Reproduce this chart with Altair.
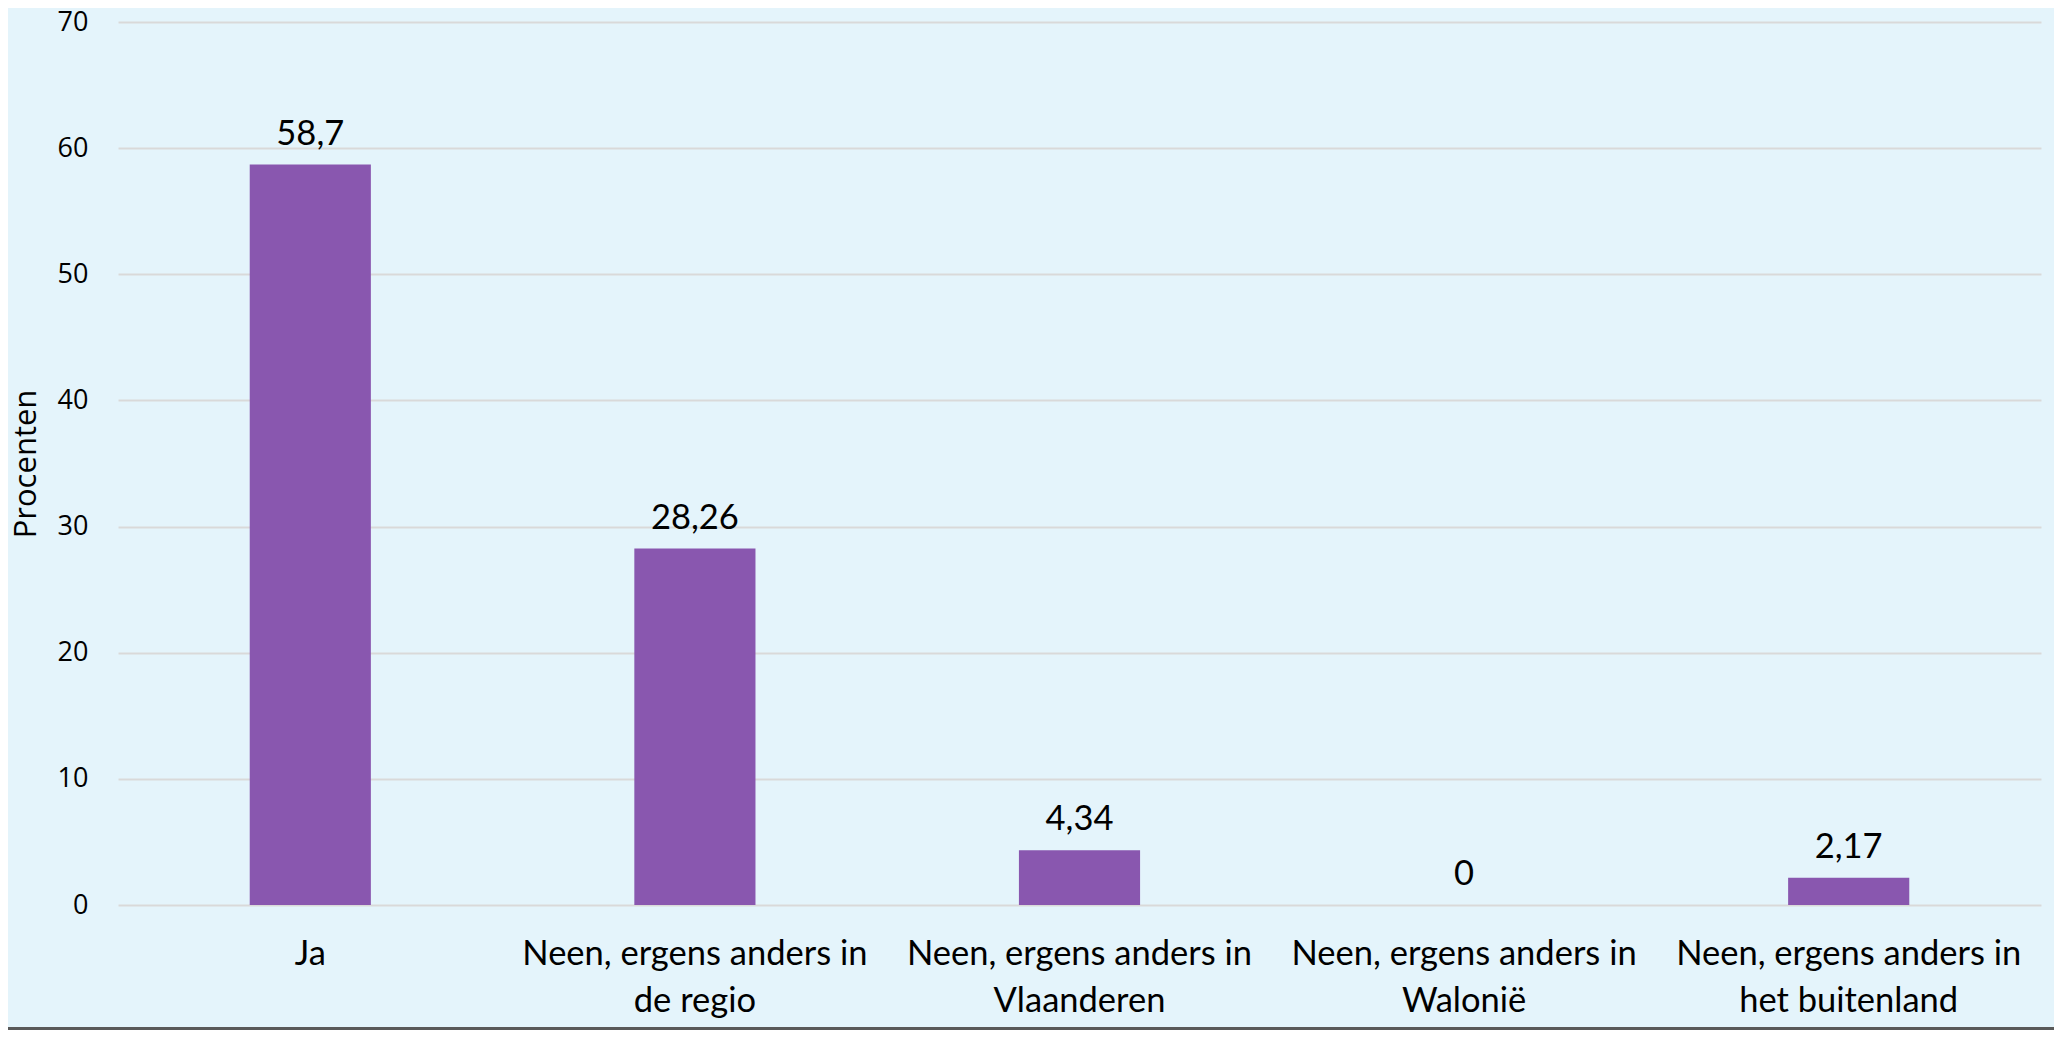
import altair as alt
import pandas as pd

categories = [
    "Ja",
    "Neen, ergens anders in de regio",
    "Neen, ergens anders in Vlaanderen",
    "Neen, ergens anders in Walonië",
    "Neen, ergens anders in het buitenland",
]
values = [58.7, 28.26, 4.34, 0, 2.17]
value_labels = ["58,7", "28,26", "4,34", "0", "2,17"]
y_ticks = [0, 10, 20, 30, 40, 50, 60, 70]

df = pd.DataFrame({"cat": categories, "val": values, "lab": value_labels})

BG = "#E4F4FB"
BAR = "#8957AF"
W, H = 1923, 883
PAD_L, PAD_T, PAD_R, PAD_B = 110, 14, 13, 125

label_expr = (
    "indexof(datum.label, ' in ') > 0 ? "
    "[slice(datum.label, 0, indexof(datum.label, ' in ') + 3), "
    "slice(datum.label, indexof(datum.label, ' in ') + 4)] : datum.label"
)

x = alt.X(
    "cat:N",
    sort=categories,
    scale=alt.Scale(paddingInner=0.685, paddingOuter=0.3425),
    axis=alt.Axis(
        title=None,
        labelAngle=0,
        labelExpr=label_expr,
        labelFont="Lato",
        labelFontSize=34.5,
        labelColor="#000000",
        labelPadding=32,
        labelLineHeight=47,
        labelBaseline="top",
        ticks=False,
        domain=False,
        grid=False,
        labelLimit=600,
    ),
)

y = alt.Y(
    "val:Q",
    scale=alt.Scale(domain=[0, 70], nice=False),
    axis=alt.Axis(
        values=y_ticks,
        title="Procenten",
        titleFont="Open Sans",
        titleFontSize=31,
        titleFontWeight="normal",
        titleColor="#000000",
        titlePadding=15,
        labelFont="Open Sans",
        labelFontSize=27,
        labelColor="#000000",
        labelPadding=30,
        ticks=False,
        domain=False,
        grid=True,
        gridColor="#D9D9D9",
        gridWidth=2,
    ),
)

bars = alt.Chart(df).mark_bar(color=BAR).encode(x=x, y=y)

texts = alt.Chart(df).mark_text(
    dy=-20,
    baseline="alphabetic",
    font="Lato",
    fontSize=34.5,
    color="#000000",
).encode(x=alt.X("cat:N", sort=categories), y="val:Q", text="lab:N")

border = alt.Chart(df).mark_rule(color="#595959", strokeWidth=3).encode(
    x=alt.value(-PAD_L), x2=alt.value(W + PAD_R), y=alt.value(H + PAD_B - 1.5)
)

chart = (
    alt.layer(bars, texts, border)
    .properties(
        width=W,
        height=H,
        background=BG,
        padding={"left": PAD_L, "top": PAD_T, "right": PAD_R, "bottom": PAD_B},
        autosize=alt.AutoSizeParams(type="none"),
    )
    .configure_view(stroke=None)
)

chart.save("out.html", embed_options={"renderer": "svg", "actions": False})
